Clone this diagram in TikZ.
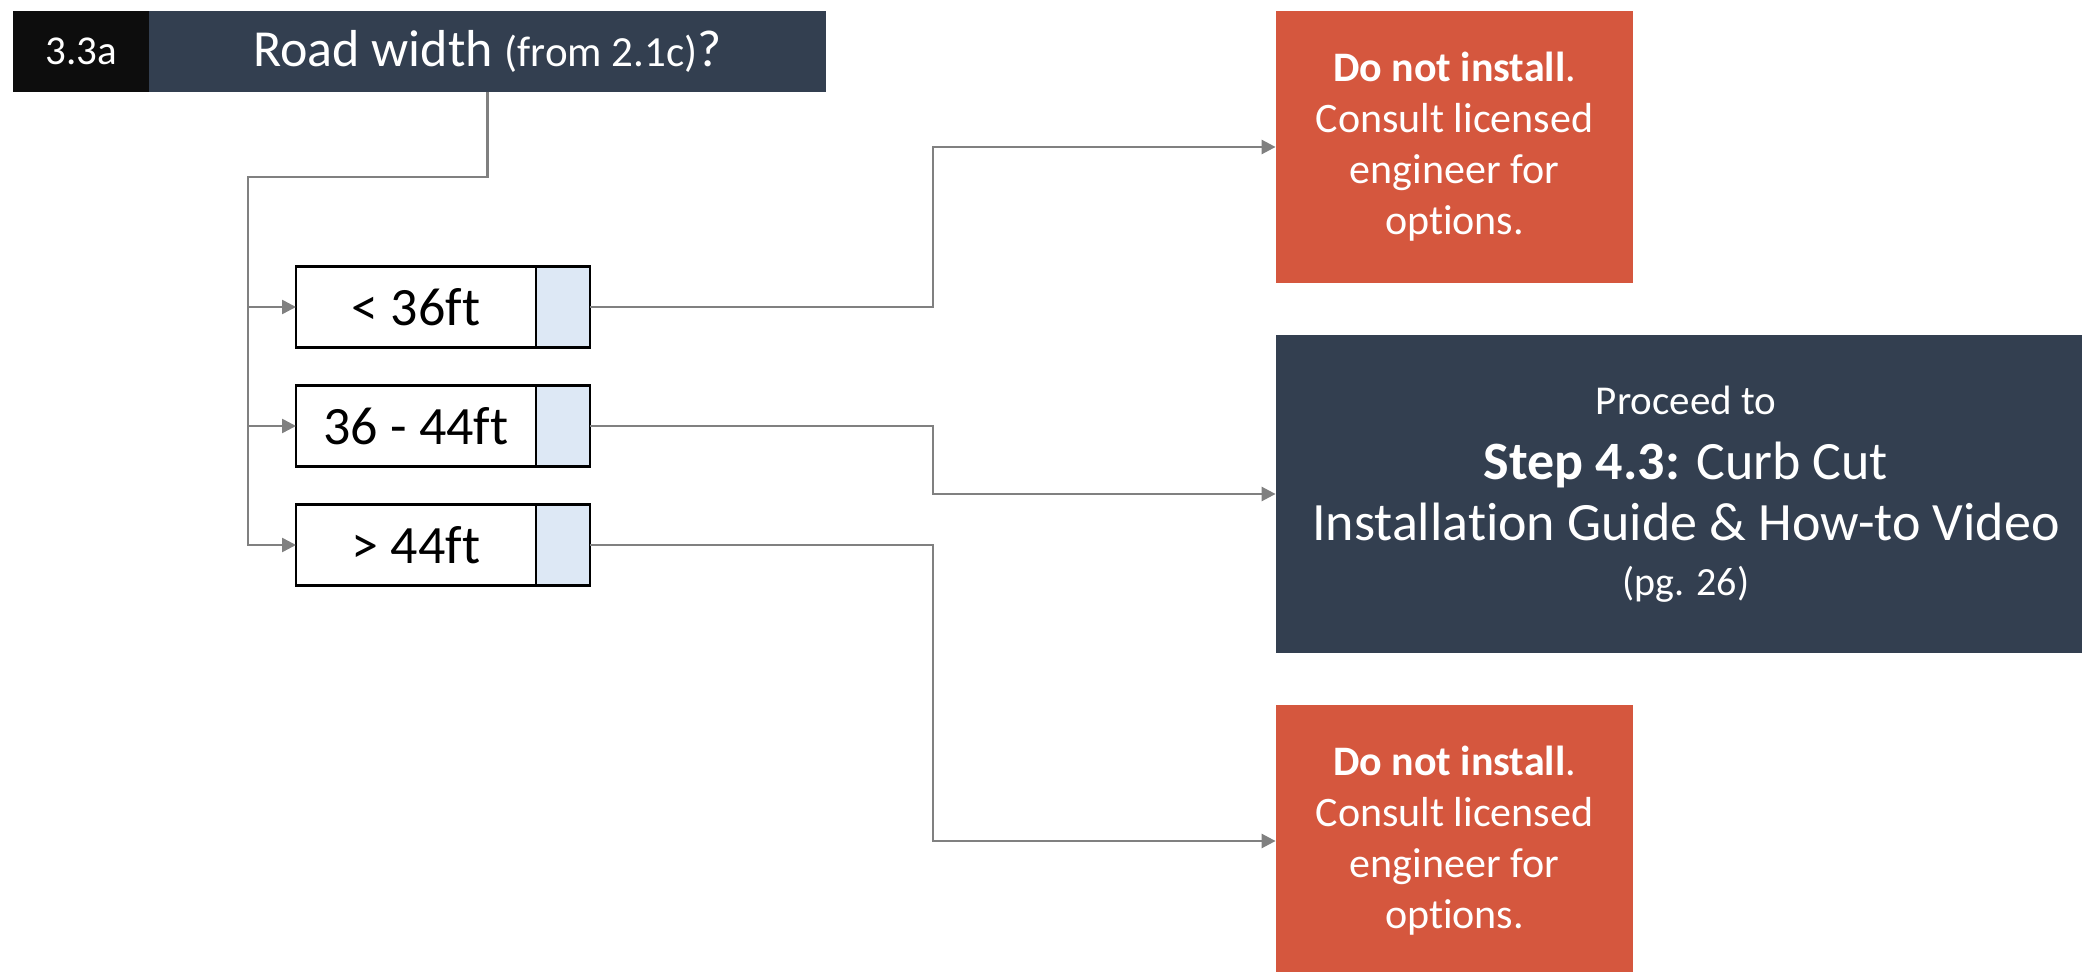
\documentclass[tikz,border=0pt]{standalone}
\usepackage{fontspec}
\setmainfont{Carlito}[Ligatures={NoCommon}]
\usepackage{xcolor}
\usetikzlibrary{positioning}
\usetikzlibrary{arrows.meta}
\definecolor{slate}{HTML}{333F50}
\definecolor{warnred}{HTML}{D5573E}
\definecolor{tickblue}{HTML}{DDE8F5}
\definecolor{linkgray}{HTML}{808080}

\begin{document}
\begin{tikzpicture}[x=0.5pt, y=-0.5pt, >={Triangle[length=7pt,width=7pt]},
    link/.style={draw=linkgray, line width=1.3pt},
    optbox/.style={rectangle, draw, fill=white, line width=1.3pt, minimum width=120pt,
        minimum height=40.5pt, inner sep=0pt, outer sep=0pt, font=\fontsize{27}{32}\selectfont},
    chkbox/.style={rectangle, draw, fill=tickblue, line width=1.3pt, minimum width=27pt,
        minimum height=40.5pt, inner sep=0pt, outer sep=0pt},
    stopbox/.style={rectangle, fill=warnred, text=white, minimum width=178.5pt, minimum height=136pt,
        align=center, inner sep=0pt, font=\fontsize{21}{25.5}\selectfont},
    node distance=59.5pt]
        \useasboundingbox (0,0) rectangle (2082,972);

        % question
        \node [rectangle, fill=black!95, text=white, minimum width=68pt, minimum height=40.5pt,
            inner sep=0pt, outer sep=0pt, font=\fontsize{20.5}{24}\selectfont] (num) at (81,51.5) {3.3a};
        \node [rectangle, fill=slate, text=white, minimum width=338.5pt, minimum height=40.5pt,
            inner sep=0pt, outer sep=0pt, right=0pt of num, font=\fontsize{26}{30}\selectfont] (title)
            {Road width {\fontsize{21.5}{26}\selectfont (from 2.1c)}?};

        % answers
        \node [optbox] (lt36) at (416,307) {< 36ft};
        \node [chkbox, right=0pt of lt36] (lt36c) {};
        \node [optbox, below of=lt36] (mid44) {36 - 44ft};
        \node [chkbox, right=0pt of mid44] (mid44c) {};
        \node [optbox, below of=mid44] (gt44) {> 44ft};
        \node [chkbox, right=0pt of gt44] (gt44c) {};

        % outcomes
        \node [stopbox] (stop1) at (1454.5,147)
            {\textbf{Do not install}.\\Consult licensed\\engineer for\\options.};
        \node [rectangle, fill=slate, text=white, minimum width=410pt, minimum height=159pt,
            align=center, inner sep=0pt, font=\fontsize{27}{30.5}\selectfont] (step) at (1686,494)
            {{\fontsize{20.5}{24}\selectfont Proceed to}\\[2pt]
             \textbf{Step 4.3:} Curb Cut\\
             Installation Guide \& How-to Video\\[-3pt]
             {\fontsize{20}{24}\selectfont (pg. 26)}};
        \node [stopbox] (stop2) at (1454.5,841)
            {\textbf{Do not install}.\\Consult licensed\\engineer for\\options.};

        \coordinate (trunk) at (248,177);
        \coordinate (bend) at (933,0);

        \draw [link, ->] (title.south) |- (trunk) |- (gt44.west);
        \draw [link, ->] (trunk |- lt36.west) -- (lt36.west);
        \draw [link, ->] (trunk |- mid44.west) -- (mid44.west);

        \draw [link, ->] (lt36c.east) -- (lt36c.east -| bend) |- (stop1.west);
        \draw [link, ->] (mid44c.east) -- (mid44c.east -| bend) |- (step.west);
        \draw [link, ->] (gt44c.east) -- (gt44c.east -| bend) |- (stop2.west);
    \end{tikzpicture}
\end{document}
